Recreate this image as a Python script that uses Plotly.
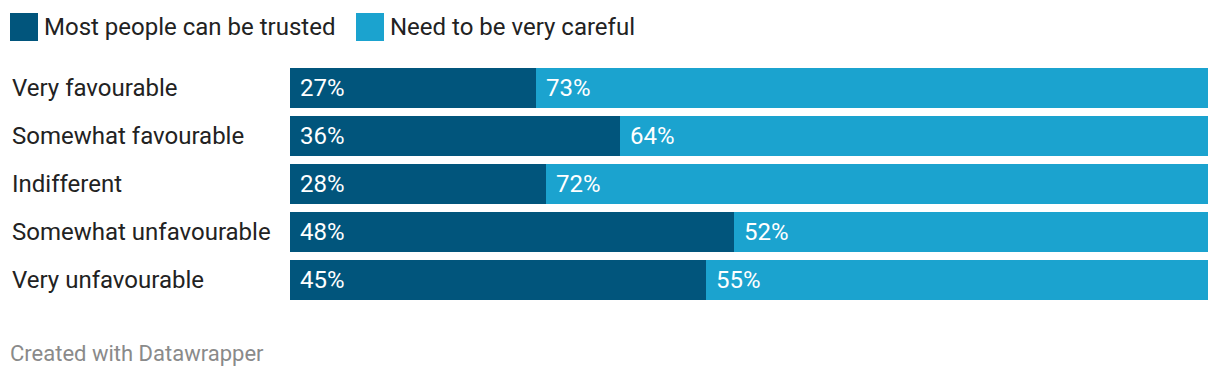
import plotly.graph_objects as go

categories = ["Very favourable", "Somewhat favourable", "Indifferent", "Somewhat unfavourable", "Very unfavourable"]
trusted = [26.8, 35.95, 27.9, 48.4, 45.3]
careful = [73.2, 64.05, 72.1, 51.6, 54.7]
series_names = ["Most people can be trusted", "Need to be very careful"]
colors = ["#01557c", "#1ba3cf"]

W, H = 1220, 378
L, R, T, B = 290, 12, 64, 74
PW = W - L - R
PH = H - T - B

def px(x):
    return (x - L) / PW

def py(y):
    return (H - B - y) / PH

fig = go.Figure()
fig.add_trace(go.Bar(y=categories, x=trusted, orientation="h", marker=dict(color=colors[0], line=dict(width=0)),
                     name=series_names[0], hoverinfo="x+y"))
fig.add_trace(go.Bar(y=categories, x=careful, base=trusted, orientation="h", marker=dict(color=colors[1], line=dict(width=0)),
                     name=series_names[1], hoverinfo="x+y"))

ann = []
font_main = "Roboto, sans-serif"
FS = 24
for c, a, b in zip(categories, trusted, careful):
    ann.append(dict(x=0, y=c, xref="x", yref="y", text=f"{round(a)}%", showarrow=False, xanchor="left", xshift=8,
                    font=dict(family=font_main, size=FS, color="white")))
    ann.append(dict(x=a, y=c, xref="x", yref="y", text=f"{round(b)}%", showarrow=False, xanchor="left", xshift=8,
                    font=dict(family=font_main, size=FS, color="white")))
    ann.append(dict(x=px(10), y=c, xref="paper", yref="y", text=c, showarrow=False, xanchor="left",
                    font=dict(family=font_main, size=FS, color="#222222")))

shapes = []
leg_sq = [(10, 38), (356, 384)]
leg_tx = [42, 388]
for (x0, x1), tx, name, col in zip(leg_sq, leg_tx, series_names, colors):
    shapes.append(dict(type="rect", xref="paper", yref="paper", x0=px(x0), x1=px(x1), y0=py(13), y1=py(41),
                       fillcolor=col, line=dict(width=0)))
    ann.append(dict(x=px(tx), y=py(27), xref="paper", yref="paper", text=name, showarrow=False, xanchor="left",
                    yanchor="middle", font=dict(family=font_main, size=FS, color="#222222")))

ann.append(dict(x=px(8), y=py(353), xref="paper", yref="paper", text="Created with Datawrapper", showarrow=False,
                xanchor="left", yanchor="middle", font=dict(family=font_main, size=22, color="#8a8a8a")))

fig.update_layout(
    barmode="stack",
    width=W, height=H,
    margin=dict(l=L, r=R, t=T, b=B),
    paper_bgcolor="white", plot_bgcolor="white",
    showlegend=False,
    bargap=8/48,
    xaxis=dict(range=[0, 100], visible=False, fixedrange=True),
    yaxis=dict(autorange="reversed", visible=False, fixedrange=True),
    annotations=ann,
    shapes=shapes,
)
fig.write_html("out.html", config={"displayModeBar": False},
               post_script="document.body.style.margin='0';document.body.style.padding='0';")
